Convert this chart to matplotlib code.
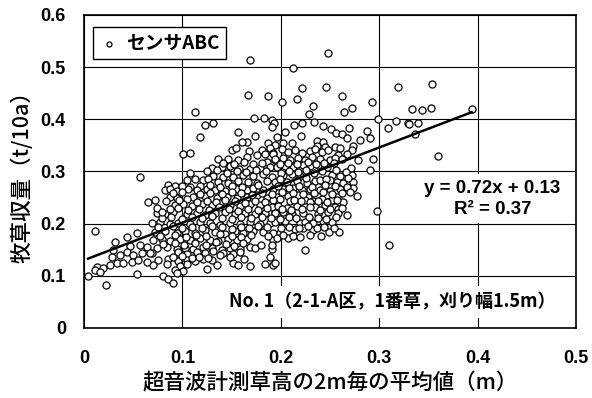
import matplotlib
matplotlib.use("Agg")
import matplotlib.pyplot as plt
import numpy as np

# ---------------- data ----------------
# sparse upper part of the cloud
x_upper = [.169,.212,.248,.167,.187,.222,.246,.113,.123,.131,.118,.157,.101,.108,.201,.216,.262,.233,.229,.272,
           .264,.293,.319,.173,.183,.191,.299,.309,.317,.329,.354,.333,.344,.353,.394,.330,.339,.336,.360,.213,
           .222,.234,.193,.243,.251,.256,.262,.267,.269,.288,.291,.204,.221,.196,.202,.211,.237,.243,.245,.237,
           .280,.273,.272,.255,.260,.267,.258,.278,.294,.271,.291,.191,.174,.166,.187,.194,.150,.154,.168,.181,
           .189,.161]
y_upper = [.514,.498,.527,.447,.445,.460,.462,.414,.389,.393,.366,.376,.334,.335,.433,.439,.445,.426,.410,.422,
           .414,.433,.462,.403,.403,.399,.401,.383,.397,.393,.468,.420,.418,.422,.420,.391,.393,.372,.330,.389,
           .393,.395,.393,.387,.381,.374,.372,.364,.383,.378,.364,.376,.368,.366,.355,.355,.358,.357,.347,.349,
           .360,.349,.341,.347,.345,.334,.332,.322,.324,.307,.303,.385,.368,.357,.355,.351,.341,.345,.339,.341,
           .345,.357]

# dense middle band, left half
x_mid_left = [.166,.176,.184,.192,.136,.146,.157,.186,.194,
              .130,.140,.148,.158,.169,.179,.189,.196,.108,
              .131,.141,.151,.162,.172,.182,.191,.105,.113,.121,
              .136,.146,.157,.167,.176,.186,.194,.085,.092,.108,.118,
              .082,.087,.095,.106,.115,.125,.133,.143,.155,.166,.172,.182,.192,
              .111,.123,.135,.145,.155,.166,.176,.186,.196]
y_mid_left = [.328,.332,.334,.336,.324,.324,.322,.318,.322,
              .307,.309,.311,.305,.305,.307,.309,.309,.297,
              .292,.289,.289,.293,.291,.295,.289,.284,.286,.284,
              .280,.278,.282,.280,.277,.281,.280,.274,.272,.270,.272,
              .265,.267,.263,.266,.264,.267,.265,.263,.266,.265,.268,.264,.266,
              .251,.253,.250,.252,.249,.251,.254,.250,.252]

# dense middle band, right half
x_mid_right = [.192,.201,.207,.214,.222,.230,.235,.242,.248,
               .194,.202,.209,.217,.225,.232,.240,.250,.255,.262,
               .204,.212,.223,.230,.238,.247,
               .202,.211,.220,.252,.260,.272,
               .206,.216,.227,.235,.243,.250,.257,.263,.273,
               .202,.212,.222,.230,.240,.250,.260,.273,
               .207,.217,.228,.247,.257,.277]
y_mid_right = [.333,.343,.337,.341,.335,.339,.343,.337,.341,
               .324,.326,.322,.325,.323,.327,.324,.322,.326,.324,
               .311,.309,.313,.310,.312,.308,
               .293,.295,.291,.294,.292,.293,
               .280,.282,.278,.281,.279,.283,.280,.277,.280,
               .266,.268,.264,.267,.265,.263,.266,.268,
               .253,.255,.251,.254,.252,.253]

# lower band
x_low = [.087,.095,.105,
         .092,.101,.110,.120,.130,.138,.148,.159,.169,.179,.189,
         .074,.082,.090,.105,.115,.123,.133,.143,.153,.164,.174,.184,.194,
         .069,.077,.087,.096,.108,.118,.128,.138,.148,.159,.169,.179,.189,
         .072,.082,.095,.103,.113,.123,.133,.143,.153,.162,.172,.182,
         .070,.079,.087,.098,.108,.118,.128,.136,.146,.155,.166,.192,
         .074,.084,.095,.103,.111,.121,.130,.140,.148,.159,.169,.174,.191,
         .069,.096,.105,.115,.123,.131,.141,.151,.159,
         .075,.085,.096,.105,.113,.121,.130,
         .070,.084,.098,.105,.135,.151,.157,.169,.184,.192,
         .092,.101,.125,.080,.085,.090,.095,
         .192,.199,.209,.225,.233,.242,.252,.263,
         .191,.197,.206,.216,.235,.245,.255,.258,
         .194,.202,.211,.223,.238,.248,.258,.267,.298,
         .194,.204,.220,.225,.233,.243,.252,
         .214,.223,.233,.237,.249,.259,.192,.199,.196,.207,.191,.225,.189,.194,.310]
y_low = [.251,.249,.247,
         .236,.238,.234,.237,.235,.239,.236,.233,.237,.235,.238,
         .220,.218,.222,.219,.221,.217,.220,.223,.219,.221,.218,.220,.222,
         .201,.203,.199,.202,.200,.204,.201,.198,.202,.200,.203,.199,.201,
         .184,.186,.182,.185,.183,.187,.184,.181,.185,.183,.186,.184,
         .169,.171,.167,.170,.168,.172,.169,.166,.170,.168,.171,.169,
         .153,.155,.151,.154,.152,.156,.153,.150,.154,.152,.155,.153,.151,
         .144,.146,.142,.145,.143,.147,.144,.141,.145,
         .130,.132,.128,.131,.129,.133,.130,
         .121,.123,.119,.122,.120,.124,.121,.118,.122,.120,
         .111,.109,.113,.100,.094,.086,.105,
         .245,.247,.243,.246,.244,.248,.245,.242,
         .232,.234,.230,.233,.231,.235,.232,.229,
         .220,.222,.218,.221,.219,.223,.220,.217,.224,
         .203,.205,.201,.204,.202,.206,.203,
         .190,.192,.188,.191,.184,.184,.182,.182,.173,.173,.159,.150,.136,.125,.159]

# extra points filling the gaps of the dense core
x_fill = [.141,.152,.163,.172,.181,.199,.207,.216,.228,.236,.244,.254,
          .125,.135,.145,.155,.165,.175,.185,.200,.208,.217,.226,.234,.242,.256,.266,
          .126,.199,.226,.240,.246,.268,
          .100,.128,.138,.150,.161,.177,.197,.208,.219,.232,.245,.255,.267,
          .090,.100,.118,.128,.140,.150,.160,.171,.181,.191,.201,.212,.223,.234,.243,.252,.262,.270,
          .083,.097,.115,.125,.134,.143,.153,.164,.174,.184,.213,.221,.230,.238,.247,.257,
          .087,.096,.106,.117,.127,.137,.147,.157,.167,.177,.186,.201,.210,.222,.230,.240,.250,.262,
          .079,.088,.100,.110,.120,.130,.140,.150,.160,.170,.181,.190,.199,.208,.215,.229,.238,.246,.256,
          .075,.090,.100,.110,.120,.130,.140,.150,.160,.168,.177,.186,.200,.208,.218,.228,.244,.254,
          .077,.092,.104,.114,.124,.138,.150,.160,.170,.187,.202,.212,.220,.230,.241,
          .080,.092,.102,.113,.124,.134,.144,.152,.162,.180,
          .090,.100,.110,.117,.126,.138,.148,.163]
y_fill = [.316,.314,.318,.315,.317,.314,.317,.315,.318,.314,.316,.317,
          .300,.302,.298,.301,.299,.303,.300,.297,.301,.299,.302,.298,.300,.303,.299,
          .286,.285,.287,.284,.286,.287,
          .272,.274,.270,.273,.271,.275,.272,.269,.273,.271,.274,.272,.270,
          .258,.260,.256,.259,.257,.261,.258,.255,.259,.257,.260,.258,.256,.259,.261,.257,.258,.260,
          .243,.245,.241,.244,.242,.246,.243,.240,.244,.242,.245,.243,.241,.244,.242,.245,
          .228,.230,.226,.229,.227,.231,.228,.225,.229,.227,.230,.228,.226,.229,.231,.227,.228,.230,
          .211,.213,.209,.212,.210,.214,.211,.208,.212,.210,.213,.211,.209,.212,.210,.213,.211,.209,.212,
          .193,.195,.191,.194,.192,.196,.193,.190,.194,.192,.195,.193,.191,.194,.192,.195,.193,.191,
          .177,.179,.175,.178,.176,.180,.177,.174,.178,.176,.179,.177,.175,.178,.176,
          .161,.163,.159,.162,.160,.164,.161,.158,.162,.160,
          .136,.138,.134,.137,.135,.139,.136,.133]

# sparse left part
x_left = [.057,.011,.004,.022,.054,.032,.044,.054,.047,.057,.064,.029,.028,.037,.044,.050,.059,.067,
          .013,.019,.026,.034,.040,.049,.055,.064,.011,.016,.065,.072,.074,.079]
y_left = [.289,.186,.100,.082,.104,.165,.174,.182,.157,.159,.155,.150,.136,.140,.146,.140,.144,.144,
          .117,.115,.121,.125,.125,.127,.130,.127,.111,.107,.242,.245,.230,.222]

slope, intercept, r2 = 0.72, 0.13, 0.37
x_ticks = [0, 0.1, 0.2, 0.3, 0.4, 0.5]
y_ticks = [0, 0.1, 0.2, 0.3, 0.4, 0.5, 0.6]
x_tick_labels = ["0", "0.1", "0.2", "0.3", "0.4", "0.5"]
y_tick_labels = ["0", "0.1", "0.2", "0.3", "0.4", "0.5", "0.6"]
series_name = "センサABC"
x_title = "超音波計測草高の2m毎の平均値（m）"
y_title = "牧草収量（t/10a）"
note = "No. 1（2-1-A区，1番草，刈り幅1.5m）"

# ---------------- plot ----------------
jp = ["Noto Sans CJK JP", "DejaVu Sans"]
num = ["Liberation Sans", "DejaVu Sans"]

x = np.array(x_upper + x_mid_left + x_mid_right + x_low + x_fill + x_left)
y = np.array(y_upper + y_mid_left + y_mid_right + y_low + y_fill + y_left)

fig = plt.figure(figsize=(5.92, 3.98), dpi=100)
ax = fig.add_axes([84/592, 70/398, 492/592, 313/398])

ax.scatter(x, y, s=26, facecolors="white", edgecolors="black", linewidths=0.9,
           zorder=3, label=series_name)

xl = np.array([x.min(), x.max()])
ax.plot(xl, slope*xl + intercept, color="black", lw=1.8, zorder=4)

ax.set_xlim(0, 0.5)
ax.set_ylim(0, 0.6)
ax.set_xticks(x_ticks)
ax.set_yticks(y_ticks)
ax.set_xticklabels(x_tick_labels, fontfamily=num, fontweight="bold", fontsize=13)
ax.set_yticklabels(y_tick_labels, fontfamily=num, fontweight="bold", fontsize=13)
ax.tick_params(axis="both", length=0)
ax.tick_params(axis="x", pad=16)
ax.tick_params(axis="y", pad=13)
ax.grid(True, color="black", lw=0.8, zorder=0)
ax.set_axisbelow(True)
for s in ax.spines.values():
    s.set_linewidth(1.2)

ax.set_xlabel(x_title, fontfamily=jp, fontsize=15.5, fontweight="medium", labelpad=4)
ax.set_ylabel(y_title, fontfamily=jp, fontsize=15.5, fontweight="medium", labelpad=5)

leg = ax.legend(loc="upper left", bbox_to_anchor=(0.018, 0.962), borderaxespad=0,
                frameon=True, fancybox=False, edgecolor="black", framealpha=1,
                handletextpad=0.4, handlelength=1.0, borderpad=0.35, markerscale=0.7,
                prop={"family": jp, "size": 13.5, "weight": "bold"})
leg.get_frame().set_linewidth(1.0)

ax.text(0.415, 0.248, f"y = {slope}x + {intercept}\nR² = {r2}", ha="center", va="center",
        fontfamily=num, fontweight="bold", fontsize=13.5, linespacing=1.3, zorder=5,
        bbox=dict(fc="white", ec="none", pad=4))
ax.text(0.313, 0.050, note, ha="center", va="center", fontfamily=jp, fontsize=13,
        fontweight="bold", zorder=5, bbox=dict(fc="white", ec="none", pad=5))

fig.savefig("out.png", dpi=100, facecolor="white")
